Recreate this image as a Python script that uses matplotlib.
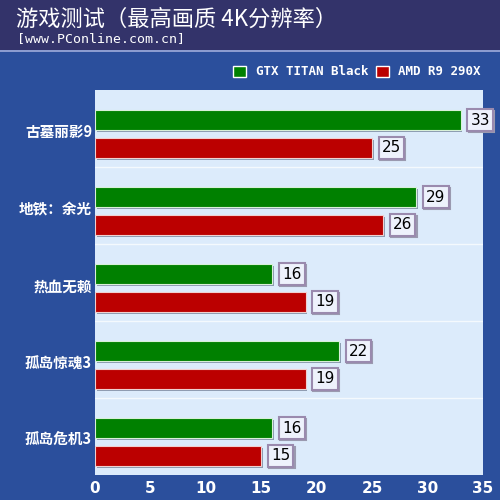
import numpy as np
import matplotlib
matplotlib.use("Agg")
import matplotlib.pyplot as plt
from matplotlib.patches import Rectangle

plt.rcParams['font.family'] = ['Noto Sans CJK SC', 'DejaVu Sans']

# 数据
games = ['古墓丽影9', '地铁：余光', '热血无赖', '孤岛惊魂3', '孤岛危机3']
gtx = [33, 29, 16, 22, 16]
amd = [25, 26, 19, 19, 15]
series_names = ['GTX TITAN Black', 'AMD R9 290X']
xticks = [0, 5, 10, 15, 20, 25, 30, 35]

green = '#008000'
red = '#BB0000'
bg_blue = '#2B4F9C'
header = '#33336A'
plot_bg = '#DCEBFB'

fig = plt.figure(figsize=(5, 5), dpi=100)
fig.patch.set_facecolor(bg_blue)

# 顶部标题栏
fig.patches.append(Rectangle((0, 0.9), 1, 0.1, transform=fig.transFigure,
                             facecolor=header, edgecolor='none', zorder=0))
fig.patches.append(Rectangle((0, 0.896), 1, 0.004, transform=fig.transFigure,
                             facecolor='#8C9CD0', edgecolor='none', zorder=0))
fig.text(0.032, 0.962, '游戏测试（最高画质 4K分辨率）', color='white',
         fontsize=16, va='center', ha='left', weight='medium')
fig.text(0.034, 0.922, '[www.PConline.com.cn]', color='white',
         fontsize=9.5, va='center', ha='left', family='DejaVu Sans Mono')

# 图例
fig.patches.append(Rectangle((0.466, 0.846), 0.026, 0.022, transform=fig.transFigure,
                             facecolor=green, edgecolor='white', lw=1))
fig.text(0.512, 0.857, series_names[0], color='white', fontsize=9,
         va='center', ha='left', family='DejaVu Sans Mono', weight='bold')
fig.patches.append(Rectangle((0.752, 0.846), 0.026, 0.022, transform=fig.transFigure,
                             facecolor=red, edgecolor='white', lw=1))
fig.text(0.796, 0.857, series_names[1], color='white', fontsize=9,
         va='center', ha='left', family='DejaVu Sans Mono', weight='bold')

ax = fig.add_axes([0.19, 0.05, 0.776, 0.77])
ax.set_facecolor(plot_bg)

y = np.arange(len(games))
h = 0.26
g_off = -0.11
r_off = 0.253

# 阴影
ax.barh(y + g_off + 0.03, gtx, height=h, left=0.15, color='#8A9AB0', zorder=1)
ax.barh(y + r_off + 0.03, amd, height=h, left=0.15, color='#8A9AB0', zorder=1)
ax.barh(y + g_off, gtx, height=h, color=green, edgecolor='#D8F0D8', lw=0.8, zorder=2)
ax.barh(y + r_off, amd, height=h, color=red, edgecolor='#F0D0D0', lw=0.8, zorder=2)

for vals, off in [(gtx, g_off), (amd, r_off)]:
    for i, v in enumerate(vals):
        # 标签阴影
        ax.annotate(str(v), (v, i + off), xytext=(14.8, -0.8), textcoords='offset points',
                    ha='center', va='center', fontsize=11, color='#9A9AB0',
                    family='DejaVu Sans', zorder=4,
                    bbox=dict(boxstyle='square,pad=0.2', facecolor='#9A9AB0',
                              edgecolor='#9A9AB0', lw=1.5))
        ax.annotate(str(v), (v, i + off), xytext=(14, 0), textcoords='offset points',
                    ha='center', va='center', fontsize=11, color='black',
                    family='DejaVu Sans', zorder=5,
                    bbox=dict(boxstyle='square,pad=0.2', facecolor='#EEF2FC',
                              edgecolor='#9A8AAE', lw=1.5))

for b in np.arange(0.5, len(games) - 1, 1):
    ax.axhline(b, color='white', lw=1, alpha=0.7, zorder=0.5)

ax.set_xlim(0, 35)
ax.set_ylim(len(games) - 0.5, -0.5)
ax.set_xticks(xticks)
ax.set_xticklabels([str(t) for t in xticks], color='white', fontsize=11,
                   family='DejaVu Sans', weight='bold')
ax.tick_params(axis='x', length=0, pad=4)
ax.set_yticks(y + 0.03)
ax.set_yticklabels(games, color='white', fontsize=10.5, weight='bold')
ax.tick_params(axis='y', length=0, pad=2)
for s in ax.spines.values():
    s.set_visible(False)

fig.savefig('out.png', dpi=100, facecolor=fig.get_facecolor())
